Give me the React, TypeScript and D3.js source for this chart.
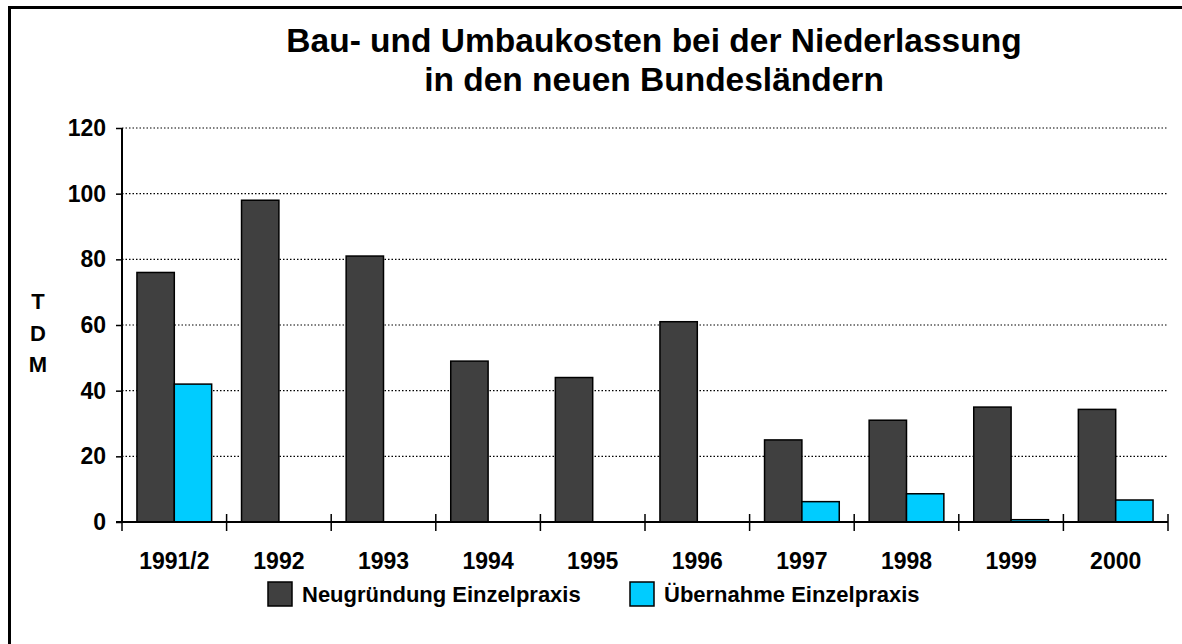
import React, { useEffect, useRef } from "react";
import { select, scaleBand, scaleLinear, axisLeft, axisBottom } from "d3";

const categories = ["1991/2", "1992", "1993", "1994", "1995", "1996", "1997", "1998", "1999", "2000"];
const neugruendung = [76, 98, 81, 49, 44, 61, 25, 31, 35, 34.3];
const uebernahme = [42, 0, 0, 0, 0, 0, 6.2, 8.6, 0.7, 6.7];
const seriesNames = ["Neugründung Einzelpraxis", "Übernahme Einzelpraxis"];
const seriesColors = ["#404040", "#00CCFF"];
const yTicks = [0, 20, 40, 60, 80, 100, 120];

const W = 1182;
const H = 644;
const margin = { left: 122, right: 14, top: 128, bottom: 122 };
const font = "Arial, 'Liberation Sans', sans-serif";

export default function App() {
  const gridRef = useRef<SVGGElement>(null);
  const yAxisRef = useRef<SVGGElement>(null);
  const xAxisRef = useRef<SVGGElement>(null);

  const x = scaleBand<string>()
    .domain(categories)
    .range([margin.left, W - margin.right])
    .paddingInner(0)
    .paddingOuter(0);
  const xs = scaleBand<string>()
    .domain(seriesNames)
    .range([0, x.bandwidth()])
    .paddingInner(0)
    .paddingOuter(0.4);
  const y = scaleLinear().domain([0, 120]).range([H - margin.bottom, margin.top]);

  useEffect(() => {
    const grid = select(gridRef.current);
    grid
      .selectAll("line")
      .data(yTicks.filter((d) => d > 0))
      .join("line")
      .attr("x1", margin.left)
      .attr("x2", W - margin.right)
      .attr("y1", (d) => y(d))
      .attr("y2", (d) => y(d))
      .attr("stroke", "#000")
      .attr("stroke-width", 1.2)
      .attr("stroke-dasharray", "1.5,2");

    const ya = select(yAxisRef.current);
    ya.call(axisLeft(y).tickValues(yTicks).tickSize(6).tickPadding(10) as any);
    ya.select(".domain").attr("stroke-width", 2).attr("d", `M0,${y(120)}V${y(0)}`);
    ya.selectAll(".tick line").attr("stroke-width", 1.5);
    ya.selectAll(".tick text")
      .attr("font-family", font)
      .attr("font-weight", "bold")
      .attr("font-size", 23)
      .attr("fill", "#000");

    const xa = select(xAxisRef.current);
    const bounds = categories.map((c) => x(c)!).concat([W - margin.right]);
    xa.call(axisBottom(x).tickSize(0).tickPadding(31) as any);
    xa.select(".domain").attr("stroke-width", 2).attr("d", `M${margin.left - 6},0H${W - margin.right}`);
    xa.selectAll(".tick text")
      .attr("font-family", font)
      .attr("font-weight", "bold")
      .attr("font-size", 23)
      .attr("fill", "#000");
    xa.selectAll(".bound")
      .data(bounds)
      .join("line")
      .attr("class", "bound")
      .attr("x1", (d) => d)
      .attr("x2", (d) => d)
      .attr("y1", -8)
      .attr("y2", 9)
      .attr("stroke", "#000")
      .attr("stroke-width", 1.5);
  }, []);

  const bars: { cat: string; s: number; v: number }[] = [];
  categories.forEach((c, i) => {
    bars.push({ cat: c, s: 0, v: neugruendung[i] });
    if (uebernahme[i] > 0) bars.push({ cat: c, s: 1, v: uebernahme[i] });
  });

  return (
    <svg width={W} height={H} style={{ position: "absolute", left: 0, top: 0, display: "block" }}>
      <rect x={0} y={0} width={W} height={H} fill="#fff" />
      {/* frame: only left and top edges fall inside the picture */}
      <path d={`M9.5,${H + 5}V7.5H${W + 5}`} fill="none" stroke="#000" strokeWidth={3} />
      <text x={654} y={52} textAnchor="middle" fontFamily={font} fontWeight="bold" fontSize={33.5}>
        Bau- und Umbaukosten bei der Niederlassung
      </text>
      <text x={654} y={91} textAnchor="middle" fontFamily={font} fontWeight="bold" fontSize={33.5}>
        in den neuen Bundesländern
      </text>
      {["T", "D", "M"].map((l, i) => (
        <text key={l} x={38} y={309 + i * 31.5} textAnchor="middle" fontFamily={font} fontWeight="bold" fontSize={22}>
          {l}
        </text>
      ))}
      <g ref={gridRef} />
      <g>
        {bars.map((b, i) => (
          <rect
            key={i}
            x={x(b.cat)! + xs(seriesNames[b.s])!}
            y={y(b.v)}
            width={xs.bandwidth()}
            height={y(0) - y(b.v)}
            fill={seriesColors[b.s]}
            stroke="#000"
            strokeWidth={1.5}
          />
        ))}
      </g>
      <g ref={yAxisRef} transform={`translate(${margin.left},0)`} />
      <g ref={xAxisRef} transform={`translate(0,${y(0)})`} />
      <g fontFamily={font} fontWeight="bold" fontSize={22}>
        {seriesNames.map((s, i) => (
          <g key={s} transform={`translate(${268 + i * 362},582)`}>
            <rect x={0} y={0} width={24} height={24} fill={seriesColors[i]} stroke="#000" strokeWidth={1.5} />
            <text x={34} y={20}>
              {s}
            </text>
          </g>
        ))}
      </g>
    </svg>
  );
}
